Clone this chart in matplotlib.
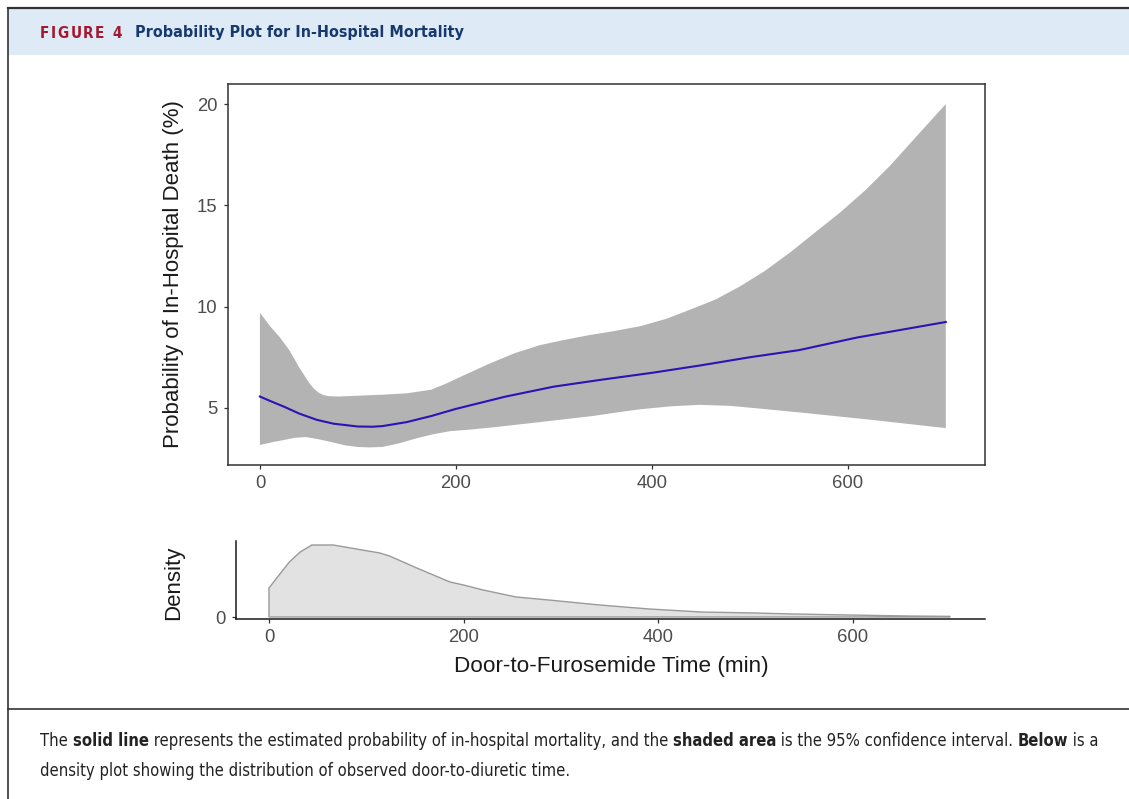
import numpy as np
import matplotlib
matplotlib.use('Agg')
import matplotlib.pyplot as plt
from matplotlib import font_manager
from matplotlib.font_manager import FontProperties
from matplotlib.patches import Rectangle
from matplotlib.lines import Line2D

# ---- data ----
# fitted probability of in-hospital death (%)
fit_x = [0, 10, 25, 40, 58, 75, 100, 115, 125, 150, 175, 200, 250, 300, 350, 400, 450, 500,
         550, 609, 700]
fit_y = [5.56, 5.35, 5.05, 4.72, 4.41, 4.22, 4.08, 4.07, 4.1, 4.3, 4.6, 4.95, 5.55, 6.05,
         6.4, 6.73, 7.1, 7.5, 7.85, 8.47, 9.24]

# 95% CI upper / lower bounds
up_x = [0, 10, 20, 30, 40, 50, 55, 60, 65, 70, 80, 100, 125, 150, 175, 190, 210, 235, 260,
        286, 310, 337, 360, 388, 415, 439, 465, 490, 515, 541, 565, 592, 618, 643, 670, 700]
up_y = [9.7, 9.05, 8.5, 7.85, 7.0, 6.25, 5.95, 5.75, 5.63, 5.58, 5.56, 5.6, 5.65, 5.72, 5.9,
        6.2, 6.65, 7.2, 7.7, 8.1, 8.35, 8.6, 8.78, 9.03, 9.4, 9.85, 10.35, 11.0, 11.75, 12.67,
        13.6, 14.64, 15.75, 16.95, 18.4, 20.0]
lo_x = [0, 12, 23, 35, 47, 60, 74, 87, 100, 112, 125, 142, 160, 177, 194, 215, 240, 286, 340,
        365, 388, 420, 449, 480, 507, 558, 626, 700]
lo_y = [3.17, 3.3, 3.4, 3.52, 3.56, 3.45, 3.3, 3.15, 3.07, 3.05, 3.07, 3.25, 3.5, 3.7, 3.85,
        3.93, 4.05, 4.3, 4.6, 4.78, 4.93, 5.08, 5.15, 5.1, 4.98, 4.74, 4.4, 4.0]

# density of observed door-to-furosemide time (x1e-3)
dens_x = [0, 8, 21, 32, 44, 66, 90, 114, 124, 152, 186, 200, 220, 254, 288, 340, 391, 445,
          500, 537, 600, 660, 700]
dens_y = [1.81, 2.44, 3.44, 4.06, 4.5, 4.5, 4.25, 4.0, 3.81, 3.06, 2.19, 2.0, 1.69, 1.25,
          1.06, 0.75, 0.5, 0.31, 0.25, 0.19, 0.12, 0.06, 0.04]

x_ticks = [0, 200, 400, 600]
y_ticks = [5, 10, 15, 20]

title_tag = 'FIGURE 4'
title_text = 'Probability Plot for In-Hospital Mortality'
caption1 = [('The ', False), ('solid line', True),
            (' represents the estimated probability of in-hospital mortality, and the ', False),
            ('shaded area', True), (' is the 95% confidence interval. ', False),
            ('Below', True), (' is a', False)]
caption2 = [('density plot showing the distribution of observed door-to-diuretic time.', False)]

# ---- fonts ----
plt.rcParams['font.family'] = ['Liberation Sans', 'DejaVu Sans']
has_cond = any(f.name == 'DejaVu Sans' and str(f.stretch) in ('condensed', '300')
               for f in font_manager.fontManager.ttflist)


def head_font(bold, size=10):
    if has_cond:
        return FontProperties(family='DejaVu Sans', stretch='condensed',
                              weight='bold' if bold else 'normal', size=size)
    return FontProperties(family='Liberation Sans', weight='bold' if bold else 'normal', size=size)


W, H = 1129, 799
fig = plt.figure(figsize=(W / 100, H / 100), dpi=100)
fig.patch.set_facecolor('white')
renderer = fig.canvas.get_renderer()


def fx(px):
    return px / W


def fy(py):
    return 1 - py / H


# ---- frame / header ----
fig.add_artist(Rectangle((fx(8), fy(55)), 1 - fx(8), 46 / H, transform=fig.transFigure,
                         facecolor='#deeaf6', edgecolor='none'))
fig.add_artist(Line2D([fx(8), 1], [fy(8), fy(8)], transform=fig.transFigure, color='#333333', lw=1.6))
fig.add_artist(Line2D([fx(8), fx(8)], [fy(8), 0], transform=fig.transFigure, color='#333333', lw=1.2))
fig.add_artist(Line2D([fx(8), 1], [fy(709), fy(709)], transform=fig.transFigure, color='#333333', lw=1.2))


def text_width(s, size, bold):
    t = fig.text(0, 0, '|' + s + '|', fontproperties=head_font(bold, size))
    w1 = t.get_window_extent(renderer).width
    t.set_text('||')
    w2 = t.get_window_extent(renderer).width
    t.remove()
    return w1 - w2


def fit_size(parts, target):
    w = sum(text_width(s, 10, b) for s, b in parts)
    return 10 * target / w


def rich_line(parts, x0, y, size, color):
    x = x0
    for s, b in parts:
        fig.text(fx(x), fy(y), s, fontproperties=head_font(b, size), color=color,
                 va='center', ha='left')
        x += text_width(s, size, b)


# header texts
ttl_size = fit_size([(title_text, True)], 324)
fig.text(fx(135), fy(33), title_text, fontproperties=head_font(True, ttl_size),
         color='#173a6e', va='center', ha='left')

# letter-spaced tag
tag_size = ttl_size * 0.95
widths = [text_width(c, tag_size, True) for c in title_tag]
gap = (82 - sum(widths)) / (len(title_tag) - 1)
xc = 40
for c, w in zip(title_tag, widths):
    fig.text(fx(xc), fy(33), c, fontproperties=head_font(True, tag_size),
             color='#a3192f', va='center', ha='left')
    xc += w + gap

# caption
cap_size = fit_size(caption1, 1057)
rich_line(caption1, 40, 741, cap_size, '#222222')
rich_line(caption2, 40, 771, cap_size, '#222222')

# ---- top panel: probability plot ----
ax = fig.add_axes([fx(228), fy(465), 757 / W, 381 / H])
ax.fill(up_x + lo_x[::-1], up_y + lo_y[::-1], facecolor='#b3b3b3', edgecolor='none')
ax.plot(fit_x, fit_y, color='#2a14b4', lw=1.5)
ax.set_xlim(-32.6, 740)
ax.set_ylim(2.18, 20.99)
ax.set_xticks(x_ticks)
ax.set_yticks(y_ticks)
for sp in ax.spines.values():
    sp.set_color('#333333')
    sp.set_linewidth(1.1)
ax.tick_params(colors='#333333', labelcolor='#4d4d4d', labelsize=13.3, length=3, width=0.9, pad=4.5)
ax.set_ylabel('Probability of In-Hospital Death (%)', fontsize=16, color='#1a1a1a')
ax.yaxis.set_label_coords(-0.058, 0.5)

# ---- bottom panel: density ----
axd = fig.add_axes([fx(236), fy(619), 749 / W, 78 / H])
axd.fill(dens_x + [700, 0], [v * 1e-3 for v in dens_y] + [0, 0], facecolor='#e2e2e2',
         edgecolor='#9a9a9a', lw=1.0)
axd.set_xlim(-33.9, 736)
axd.set_ylim(-0.000125, 0.00475)
axd.set_xticks(x_ticks)
axd.set_yticks([0])
axd.set_yticklabels(['0'])
for s in ['top', 'right']:
    axd.spines[s].set_visible(False)
for s in ['left', 'bottom']:
    axd.spines[s].set_color('#1a1a1a')
    axd.spines[s].set_linewidth(1.1)
axd.tick_params(colors='#333333', labelcolor='#4d4d4d', labelsize=13.3, length=3, width=0.9, pad=4.5)
axd.set_ylabel('Density', fontsize=16, color='#1a1a1a')
axd.yaxis.set_label_coords(-0.069, 0.47)
axd.set_xlabel('Door-to-Furosemide Time (min)', fontsize=16.2, color='#1a1a1a')
axd.xaxis.set_label_coords(0.5007, -0.48)

fig.savefig('out.png', dpi=100)
